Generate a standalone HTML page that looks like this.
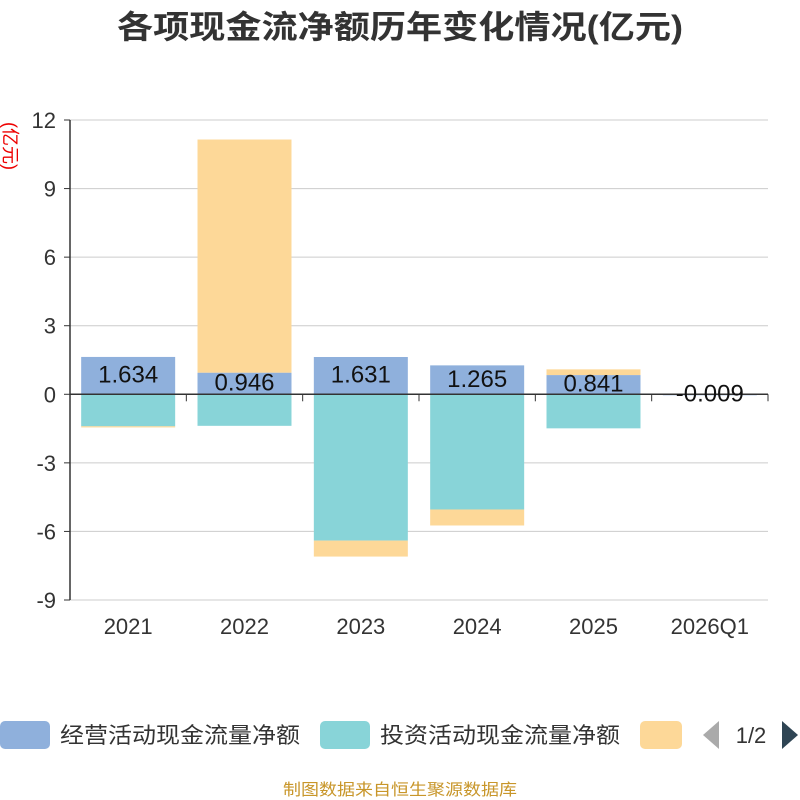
<!DOCTYPE html>
<html><head><meta charset="utf-8"><style>
body{margin:0;background:#fff;}
svg{display:block;font-family:"Liberation Sans","Noto Sans CJK SC",sans-serif;}
</style></head><body>
<svg id="c" width="800" height="800">
<text x="400" y="38" text-anchor="middle" font-size="32" font-weight="bold" fill="#333" textLength="566" lengthAdjust="spacingAndGlyphs">各项现金流净额历年变化情况(亿元)</text>
<text transform="translate(4,146) rotate(90)" text-anchor="middle" font-size="18" fill="#e00">(亿元)</text>
<g id="grid"></g><g id="bars"></g><g id="axes"></g><g id="labels"></g>
<g>
<g><rect x="0" y="721" width="50" height="28" rx="5" fill="#8fb0dc"/><text x="60" y="743" font-size="22" fill="#333" textLength="240" lengthAdjust="spacingAndGlyphs">经营活动现金流量净额</text></g>
<g><rect x="320" y="721" width="50" height="28" rx="5" fill="#88d4d8"/><text x="380" y="743" font-size="22" fill="#333" textLength="240" lengthAdjust="spacingAndGlyphs">投资活动现金流量净额</text></g>
<g><rect x="640" y="721" width="42" height="28" rx="5" fill="#fdd898"/></g>
<polygon points="719,721 719,749 703,735" fill="#aaa"/>
<text x="751" y="743" text-anchor="middle" font-size="22" fill="#333">1/2</text>
<polygon points="782,721 782,749 798,735" fill="#2f4554"/>
</g>
<text x="400" y="795" text-anchor="middle" font-size="16" fill="#c8962a" textLength="234" lengthAdjust="spacingAndGlyphs">制图数据来自恒生聚源数据库</text>
</svg>
<script>
const categories=["2021","2022","2023","2024","2025","2026Q1"];
const operating=[1.634,0.946,1.631,1.265,0.841,-0.009];
const investing=[-1.40,-1.38,-6.40,-5.04,-1.49,0.0];
const financing=[-0.05,10.2,-0.70,-0.70,0.25,0.02];
const yTicks=[-9,-6,-3,0,3,6,9,12];
const colors=["#8fb0dc","#88d4d8","#fdd898"];
const NS="http://www.w3.org/2000/svg";
const X0=70,X1=768,Y0=600,Y1=120,yMin=-9,yMax=12;
const y=v=>Y0-(v-yMin)/(yMax-yMin)*(Y0-Y1);
const bw=(X1-X0)/categories.length;
const xc=i=>X0+bw*(i+0.5);
function mk(t,a,p){const e=document.createElementNS(NS,t);for(const k in a)e.setAttribute(k,a[k]);p.appendChild(e);return e;}
const grid=document.getElementById('grid'),axes=document.getElementById('axes'),bars=document.getElementById('bars'),labels=document.getElementById('labels');
yTicks.forEach(t=>{
 const l=mk('line',{x1:X0,x2:X1,y1:y(t),y2:y(t),stroke:'#ccc','stroke-width':1},grid);
 
 
 const tk=mk('line',{x1:X0-6,x2:X0,y1:y(t),y2:y(t),stroke:'#333'},axes);
 
 
 const tx=mk('text',{x:X0-14,y:y(t)+8,'text-anchor':'end','font-size':22,fill:'#333'},axes);
 tx.textContent=t;
 
 
});
const ya=mk('line',{x1:X0,x2:X0,y1:Y1,y2:Y0,stroke:'#333','stroke-width':1.5},axes);


const xa=mk('line',{x1:X0,x2:X1,y1:y(0),y2:y(0),stroke:'#333','stroke-width':1.5},axes);


for(let i=0;i<=categories.length;i++){
 const t=mk('line',{x1:X0+bw*i,x2:X0+bw*i,y1:y(0),y2:y(0)+7,stroke:'#333'},axes);
 
 
}
const series=[operating,investing,financing];
const names=['operating','investing','financing'];
categories.forEach((c,i)=>{
 let pos=0,neg=0;
 series.forEach((s,k)=>{
  const v=s[i];let a,b;
  if(v>=0){a=pos;b=pos+v;pos=b;}else{a=neg;b=neg+v;neg=b;}
  const top=Math.min(y(a),y(b)),h=Math.max(Math.abs(y(a)-y(b)),v===0?0:1);
  const r=mk('rect',{x:xc(i)-47,y:top,width:94,height:h,fill:colors[k]},bars);
  
  
 });
 const xl=mk('text',{x:xc(i),y:Y0+34,'text-anchor':'middle','font-size':22,fill:'#333'},axes);
 xl.textContent=c;
 
 
 const v=operating[i];
 const lt=mk('text',{x:xc(i),y:(y(0)+y(v))/2+7,'text-anchor':'middle','font-size':24,fill:'#111'},labels);
 lt.textContent=v.toFixed(3);
 
 
});
</script>
</body></html>
